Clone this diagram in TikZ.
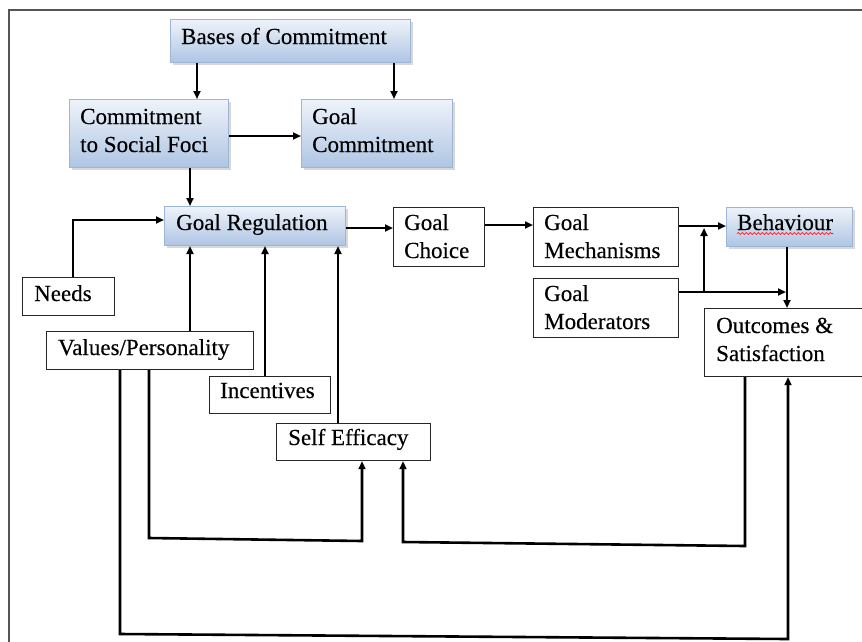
\documentclass[tikz,border=0pt]{standalone}
\usepackage{fontspec}
\setmainfont{Liberation Serif}
\newfontfamily\diagfont[FakeBold=0.3]{Liberation Serif}
\usetikzlibrary{arrows.meta,calc,shadows,decorations.pathmorphing}
\definecolor{bluetop}{HTML}{EEF3FA}
\definecolor{bluebot}{HTML}{AFC5E3}
\definecolor{boxblue}{HTML}{9DB5D6}
\definecolor{framegray}{HTML}{555555}
\begin{document}
\begin{tikzpicture}[x=1pt,y=-1pt,
  bluebox/.style={draw=boxblue, line width=1pt, top color=bluetop, bottom color=bluebot,
    drop shadow={opacity=0.3, shadow xshift=2.5pt, shadow yshift=-2.5pt},
    anchor=north west, inner sep=0pt},
  whitebox/.style={draw=black!85, line width=1.2pt, fill=white, anchor=north west, inner sep=0pt},
  txt/.style={anchor=base west, inner sep=0pt, font=\diagfont\fontsize{23}{28}\selectfont},
  conn/.style={line width=2.6pt, line join=miter, -{Triangle[length=8pt,width=7pt]}},
]
\useasboundingbox (0,0) rectangle (862,641);
\fill[white] (0,0) rectangle (862,641);
% outer frame
\draw[framegray, line width=1.6pt] (870,10) -- (9,10) -- (9,650);

% boxes
\node[bluebox, minimum width=240pt, minimum height=43pt] (bases) at (170,19) {};
\node[bluebox, minimum width=159pt, minimum height=68pt] (csf) at (69,99) {};
\node[bluebox, minimum width=151pt, minimum height=68pt] (gcommit) at (301,99) {};
\node[bluebox, minimum width=181pt, minimum height=39pt] (greg) at (164,206) {};
\node[whitebox, minimum width=91pt, minimum height=59pt] (gchoice) at (393,207) {};
\node[whitebox, minimum width=145pt, minimum height=59pt] (gmech) at (533,207) {};
\node[bluebox, minimum width=126pt, minimum height=39pt] (behav) at (726,207) {};
\node[whitebox, minimum width=145pt, minimum height=59pt] (gmod) at (533,278) {};
\node[whitebox, minimum width=170pt, minimum height=68pt] (outc) at (704,308) {};
\node[whitebox, minimum width=92pt, minimum height=38pt] (needs) at (22,277) {};
\node[whitebox, minimum width=207pt, minimum height=38pt] (values) at (46,331) {};
\node[whitebox, minimum width=121pt, minimum height=37pt] (incent) at (209,376) {};
\node[whitebox, minimum width=154pt, minimum height=37pt] (selfeff) at (276,423) {};

% texts
\node[txt] (t1) at ($(bases.north west)+(11,25)$) {Bases of Commitment};
\node[txt] (t2) at ($(csf.north west)+(11,25)$) {\vtop{\hbox{Commitment}\hbox{to Social Foci}}};
\node[txt] (t3) at ($(gcommit.north west)+(11,25)$) {\vtop{\hbox{Goal}\hbox{Commitment}}};
\node[txt] (t4) at ($(greg.north west)+(12,24)$) {Goal Regulation};
\node[txt] (t5) at ($(gchoice.north west)+(11,23)$) {\vtop{\hbox{Goal}\hbox{Choice}}};
\node[txt] (t6) at ($(gmech.north west)+(11,23)$) {\vtop{\hbox{Goal}\hbox{Mechanisms}}};
\node[txt] (t7) at ($(behav.north west)+(11,23)$) {Behaviour};
\node[txt] (t8) at ($(gmod.north west)+(11,23)$) {\vtop{\hbox{Goal}\hbox{Moderators}}};
\node[txt] (t9) at ($(outc.north west)+(12,25)$) {\vtop{\hbox{Outcomes \&}\hbox{Satisfaction}}};
\node[txt] (t10) at ($(needs.north west)+(12,24)$) {Needs};
\node[txt] (t11) at ($(values.north west)+(12,24)$) {Values/Personality};
\node[txt] (t12) at ($(incent.north west)+(11,22)$) {Incentives};
\node[txt] (t13) at ($(selfeff.north west)+(12,22)$) {Self Efficacy};
% spell-check underline
\draw[red, line width=0.6pt, decorate, decoration={snake, amplitude=0.9pt, segment length=4pt}]
  ($(t7.base west)+(0,3.5)$) -- ($(t7.base east)+(0,3.5)$);

% connectors
\draw[conn] (bases.south -| 197,0) -- (csf.north -| 197,0);
\draw[conn] (bases.south -| 394,0) -- (gcommit.north -| 394,0);
\draw[conn] (csf.east |- 0,136) -- (gcommit.west |- 0,136);
\draw[conn] (csf.south -| 190,0) -- (greg.north -| 190,0);
\draw[conn] (needs.north -| 73,0) -- (73,220) -- (greg.west |- 0,220);
\draw[conn] (values.north -| 190,0) -- (greg.south -| 190,0);
\draw[conn] (incent.north -| 265,0) -- (greg.south -| 265,0);
\draw[conn] (selfeff.north -| 338,0) -- (greg.south -| 338,0);
\draw[conn] (greg.east |- 0,228) -- (gchoice.west |- 0,228);
\draw[conn] (gchoice.east |- 0,225) -- (gmech.west |- 0,225);
\draw[conn] (gmech.east |- 0,226) -- (behav.west |- 0,226);
\coordinate (jn) at (704,292);
\coordinate (tee) at (786,292);
\coordinate (up) at (704,228);
\draw[conn] (gmod.east |- jn) -- (tee);
\draw[conn] (jn) -- (up);
\draw[conn] (behav.south -| 787,0) -- (outc.north -| 787,0);
\draw[conn] (outc.south -| 745,0) -- (745,546) -- (403,542) -- (selfeff.south -| 403,0);
\draw[conn] (values.south -| 149,0) -- (149,538) -- (362,541) -- (selfeff.south -| 362,0);
\draw[conn] (values.south -| 120,0) -- (120,634) -- (788,639) -- (outc.south -| 788,0);
\end{tikzpicture}
\end{document}
